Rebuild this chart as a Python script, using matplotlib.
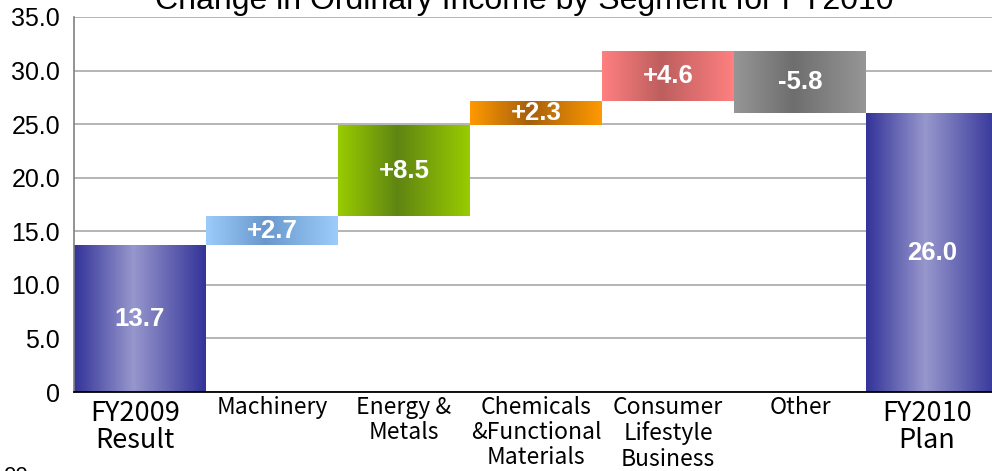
import numpy as np
import matplotlib
matplotlib.use('Agg')
import matplotlib.pyplot as plt
from matplotlib.colors import LinearSegmentedColormap
from matplotlib.transforms import ScaledTranslation

# данные
categories = ['FY2009\nResult', 'Machinery', 'Energy &\nMetals',
              'Chemicals\n&Functional\nMaterials', 'Consumer\nLifestyle\nBusiness',
              'Other', 'FY2010\nPlan']
changes = [13.7, 2.7, 8.5, 2.3, 4.6, -5.8, 26.0]
is_total = [True, False, False, False, False, False, True]
bar_labels = ['13.7', '+2.7', '+8.5', '+2.3', '+4.6', '-5.8', '26.0']
yticks = [0, 5, 10, 15, 20, 25, 30, 35]
ytick_labels = ['0', '5.0', '10.0', '15.0', '20.0', '25.0', '30.0', '35.0']

# цвета: (край, середина)
colors = [('#333399', '#9797CD'), ('#9CCCFA', '#6A98CE'), ('#99CC00', '#5F8512'),
          ('#FF9900', '#A6600C'), ('#FF8080', '#BE5E5E'), ('#969696', '#6E6E6E'),
          ('#333399', '#9797CD')]

bottoms = []
total = 0
for v, t in zip(changes, is_total):
    if t:
        bottoms.append(0)
        total = v
    else:
        bottoms.append(total)
        total += v

fig = plt.figure(figsize=(9.92, 4.71), dpi=100)
ax = fig.add_axes([74 / 992, 79 / 471, 924 / 992, 375 / 471])

x = np.arange(len(categories))
bars = ax.bar(x, changes, bottom=bottoms, width=1.0, zorder=2, linewidth=0)

grad = np.linspace(0, 1, 256).reshape(1, -1)
for rect, (edge, mid) in zip(bars, colors):
    cmap = LinearSegmentedColormap.from_list('', [(0, edge), (0.45, mid), (1, edge)])
    x0, w = rect.get_x(), rect.get_width()
    y0 = rect.get_y()
    y1 = y0 + rect.get_height()
    im = ax.imshow(grad, cmap=cmap, extent=(x0, x0 + w, min(y0, y1), max(y0, y1)),
                   aspect='auto', zorder=2, interpolation='bilinear')
    im.set_clip_path(rect)
    rect.set_facecolor('none')

for i, (b, v, lab) in enumerate(zip(bottoms, changes, bar_labels)):
    ax.text(i, b + v / 2, lab, ha='center', va='center', color='white',
            fontsize=18.5, fontweight='bold', family='Liberation Sans', zorder=3)

ax.set_xlim(-0.5, 6.5)
ax.set_ylim(0, 35)
ax.set_yticks(yticks)
ax.set_yticklabels(ytick_labels, family='Liberation Sans', fontsize=18)
ax.tick_params(axis='y', length=0, pad=10)
ax.grid(axis='y', color='#a0a0a0', linewidth=1.1, zorder=1)
ax.set_axisbelow(True)

ax.set_xticks(x)
ax.set_xticklabels(categories, family='Noto Sans CJK JP', fontsize=16.5, linespacing=1.12)
ax.tick_params(axis='x', length=0, pad=3)
for i, t in enumerate(ax.get_xticklabels()):
    if is_total[i]:
        t.set_fontsize(19.5)
        t.set_linespacing(0.98)
        t.set_transform(t.get_transform() + ScaledTranslation(-5 / 100, -4 / 100, fig.dpi_scale_trans))

ax.spines['top'].set_visible(False)
ax.spines['right'].set_visible(False)
ax.spines['left'].set_color('#808080')
ax.spines['left'].set_linewidth(1.2)
ax.spines['bottom'].set_color('black')
ax.spines['bottom'].set_linewidth(1.3)
ax.spines['bottom'].set_zorder(4)

fig.text(524 / 992, 1 - 9 / 471, 'Change in Ordinary Income by Segment for FY2010',
         ha='center', va='baseline', fontsize=23, family='Liberation Sans')
fig.text(3 / 992, 1 - 466 / 471, '00', ha='left', va='top', fontsize=16,
         family='Liberation Sans')

fig.savefig('out.png', dpi=100)
